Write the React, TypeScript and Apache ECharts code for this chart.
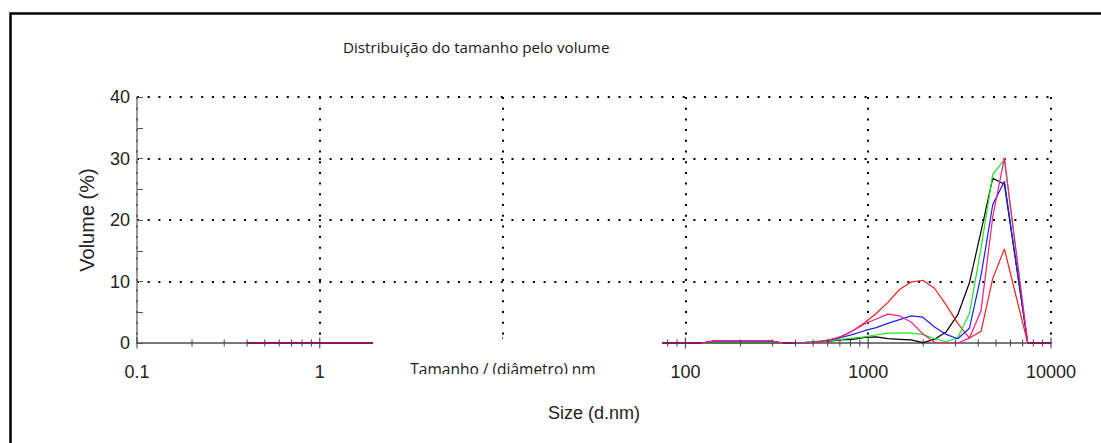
import React, { useEffect, useRef } from "react";
import * as echarts from "echarts";

// Size classes (d.nm), log-spaced from 0.4 to 10000
const SIZES = [
  0.4, 0.4632, 0.5365, 0.6213, 0.7195, 0.8332, 0.9649, 1.117, 1.294, 1.499,
  1.736, 2.01, 2.328, 2.696, 3.122, 3.615, 4.187, 4.849, 5.615, 6.503,
  7.531, 8.721, 10.1, 11.7, 13.54, 15.69, 18.17, 21.04, 24.36, 28.21,
  32.67, 37.84, 43.82, 50.75, 58.77, 68.06, 78.82, 91.28, 105.7, 122.4,
  141.8, 164.2, 190.1, 220.2, 255.0, 295.3, 342.0, 396.1, 458.7, 531.2,
  615.1, 712.4, 825.0, 955.4, 1106, 1281, 1484, 1718, 1990, 2305,
  2669, 3091, 3580, 4145, 4801, 5560, 6439, 7456, 8635, 10000,
];

// Empty classes below 141.8 nm are shared by every record
const ZEROS_40 = [
  0, 0, 0, 0, 0, 0, 0, 0, 0, 0, 0, 0, 0, 0, 0, 0, 0, 0, 0, 0,
  0, 0, 0, 0, 0, 0, 0, 0, 0, 0, 0, 0, 0, 0, 0, 0, 0, 0, 0, 0,
];

// Volume (%) per class, from 141.8 nm upward
const BLACK_TAIL = [
  0, 0, 0, 0, 0, 0, 0, 0, 0.1, 0.2,
  0.3, 0.5, 0.6, 0.9, 1.0, 0.7, 0.6, 0.5, 0.05, 0.6,
  1.8, 4.6, 9.8, 18.2, 26.8, 25.8, 12.9, 0, 0, 0,
];
const RED_TAIL = [
  0.3, 0.4, 0.4, 0.4, 0.4, 0.3, 0, 0, 0, 0.1,
  0.4, 1.0, 2.0, 3.3, 4.8, 6.6, 8.7, 9.9, 10.2, 8.9,
  6.2, 3.2, 0.8, 1.9, 10.5, 15.3, 7.6, 0, 0, 0,
];
const GREEN_TAIL = [
  0, 0, 0, 0, 0, 0, 0, 0, 0.1, 0.3,
  0.4, 0.6, 0.8, 1.0, 1.3, 1.6, 1.6, 1.6, 1.4, 0.7,
  0.2, 0.9, 4.8, 15.5, 27.4, 29.8, 14.9, 0, 0, 0,
];
const BLUE_TAIL = [
  0.3, 0.3, 0.3, 0.3, 0.3, 0.3, 0, 0, 0, 0.2,
  0.5, 0.9, 1.4, 2.0, 2.5, 3.2, 3.8, 4.4, 4.2, 2.6,
  1.4, 0.7, 2.4, 11.0, 22.5, 26.3, 13.1, 0, 0, 0,
];
const MAGENTA_TAIL = [
  0.3, 0.4, 0.4, 0.4, 0.4, 0.3, 0, 0, 0, 0.2,
  0.5, 1.1, 2.0, 3.1, 3.9, 4.7, 4.4, 3.4, 1.5, 0.1,
  0, 0, 0.8, 5.3, 20.5, 30.1, 15.0, 0, 0, 0,
];

const RECORDS = [
  { name: "Record 1", color: "#000000", values: ZEROS_40.concat(BLACK_TAIL) },
  { name: "Record 2", color: "#ff1e1e", values: ZEROS_40.concat(RED_TAIL) },
  { name: "Record 3", color: "#1ee61e", values: ZEROS_40.concat(GREEN_TAIL) },
  { name: "Record 4", color: "#1e1eff", values: ZEROS_40.concat(BLUE_TAIL) },
  { name: "Record 5", color: "#ff1a8c", values: ZEROS_40.concat(MAGENTA_TAIL) },
];

const X_MAJOR = [0.1, 1, 10, 100, 1000, 10000];
// the decade label under the inset caption is not printed
const X_LABELS_HIDDEN = [10];
const X_MINOR_STEPS = [2, 3, 4, 5, 6, 7, 8, 9];
const Y_TICKS = [0, 10, 20, 30, 40];

const TITLE = "Distribuição do tamanho pelo volume";
const INSET_LABEL = "Tamanho / (diâmetro) nm";
const X_NAME = "Size (d.nm)";
const Y_NAME = "Volume (%)";

const AXIS_FONT = "Liberation Sans";

export default function App() {
  const ref = useRef<HTMLDivElement>(null);

  useEffect(() => {
    if (!ref.current) return;
    const chart = echarts.init(ref.current, undefined, { renderer: "svg" });

    const lineSeries = RECORDS.map((r) => ({
      name: r.name,
      type: "line",
      data: SIZES.map((s, i) => [s, r.values[i]]),
      symbol: "none",
      lineStyle: { color: r.color, width: 1.2 },
      itemStyle: { color: r.color },
      z: 2,
    }));

    // classes where every record is empty make up the common baseline
    const baseline = SIZES.map((s, i) =>
      RECORDS.every((r) => r.values[i] === 0) ? [s, 0] : [s, null]
    );

    const tickData: number[][] = [];
    X_MAJOR.forEach((m, k) => {
      tickData.push([m, 1]);
      if (k < X_MAJOR.length - 1) X_MINOR_STEPS.forEach((st) => tickData.push([m * st, 0]));
    });

    const fmt = (v: number) => {
      const n = Number(v.toPrecision(6));
      return X_LABELS_HIDDEN.includes(n) ? "" : String(n);
    };

    chart.setOption({
      animation: false,
      grid: { left: 137, right: 50, top: 97, bottom: 100 },
      xAxis: {
        type: "log",
        logBase: 10,
        min: X_MAJOR[0],
        max: X_MAJOR[X_MAJOR.length - 1],
        name: X_NAME,
        nameLocation: "middle",
        nameGap: 61,
        nameTextStyle: { fontFamily: AXIS_FONT, fontSize: 18, color: "#222" },
        axisLine: { lineStyle: { color: "#7a7a7a", width: 2 } },
        axisTick: { show: false },
        minorTick: { show: false },
        axisLabel: {
          fontFamily: AXIS_FONT,
          fontSize: 18,
          color: "#222",
          margin: 20,
          formatter: (v: number) => fmt(v),
        },
        splitLine: { show: true, lineStyle: { color: "#000", width: 2, type: [2, 8.7] } },
      },
      yAxis: {
        type: "value",
        min: Y_TICKS[0],
        max: Y_TICKS[Y_TICKS.length - 1],
        interval: 10,
        name: Y_NAME,
        nameLocation: "middle",
        nameGap: 40,
        nameTextStyle: { fontFamily: AXIS_FONT, fontSize: 20, color: "#222" },
        axisLine: { show: true, lineStyle: { color: "#7a7a7a", width: 1.5 } },
        axisTick: { show: true, inside: true, length: 6, lineStyle: { color: "#555" } },
        minorTick: { show: true, splitNumber: 2, length: 6, lineStyle: { color: "#555" } },
        axisLabel: { fontFamily: AXIS_FONT, fontSize: 18, color: "#222", margin: 7 },
        splitLine: { show: true, lineStyle: { color: "#000", width: 2, type: [2, 8.7] } },
      },
      series: [
        ...lineSeries,
        {
          name: "baseline",
          type: "line",
          data: baseline,
          symbol: "none",
          connectNulls: false,
          lineStyle: { color: "#8b1a5b", width: 2 },
          z: 2,
        },
        {
          name: "ticks",
          type: "custom",
          data: tickData,
          clip: false,
          z: 4,
          renderItem: (params: any, api: any) => {
            const v = api.value(0);
            const major = api.value(1) === 1;
            const p = api.coord([v, 0]);
            const h = major ? 5.5 : 3.5;
            return {
              type: "line",
              shape: { x1: p[0], y1: p[1] - h, x2: p[0], y2: p[1] + h },
              style: { stroke: major ? "#333" : "#444", lineWidth: 1 },
            };
          },
        },
      ],
      graphic: [
        {
          type: "rect",
          z: 120,
          silent: true,
          shape: { x: 10.5, y: 13.5, width: 1300, height: 700 },
          style: { fill: "none", stroke: "#000", lineWidth: 2.5 },
        },
        {
          type: "text",
          z: 120,
          x: 343,
          y: 47,
          style: {
            text: TITLE,
            font: '15.2px "Open Sans"',
            fill: "#1a1a1a",
            align: "left",
            verticalAlign: "middle",
          },
        },
        {
          type: "rect",
          z: 100,
          silent: true,
          shape: { x: 373, y: 339, width: 289, height: 35 },
          style: { fill: "#fff", stroke: "none" },
        },
        {
          type: "text",
          z: 101,
          x: 503,
          y: 368.6,
          style: {
            text: INSET_LABEL,
            font: '15.5px "Open Sans"',
            fill: "#1a1a1a",
            align: "center",
            verticalAlign: "middle",
          },
        },
        {
          type: "rect",
          z: 102,
          silent: true,
          shape: { x: 373, y: 374, width: 289, height: 18 },
          style: { fill: "#fff", stroke: "none" },
        },
      ],
    });

    return () => chart.dispose();
  }, []);

  return (
    <div
      ref={ref}
      style={{ position: "absolute", left: 0, top: 0, width: 1101, height: 443, background: "#fff" }}
    />
  );
}
